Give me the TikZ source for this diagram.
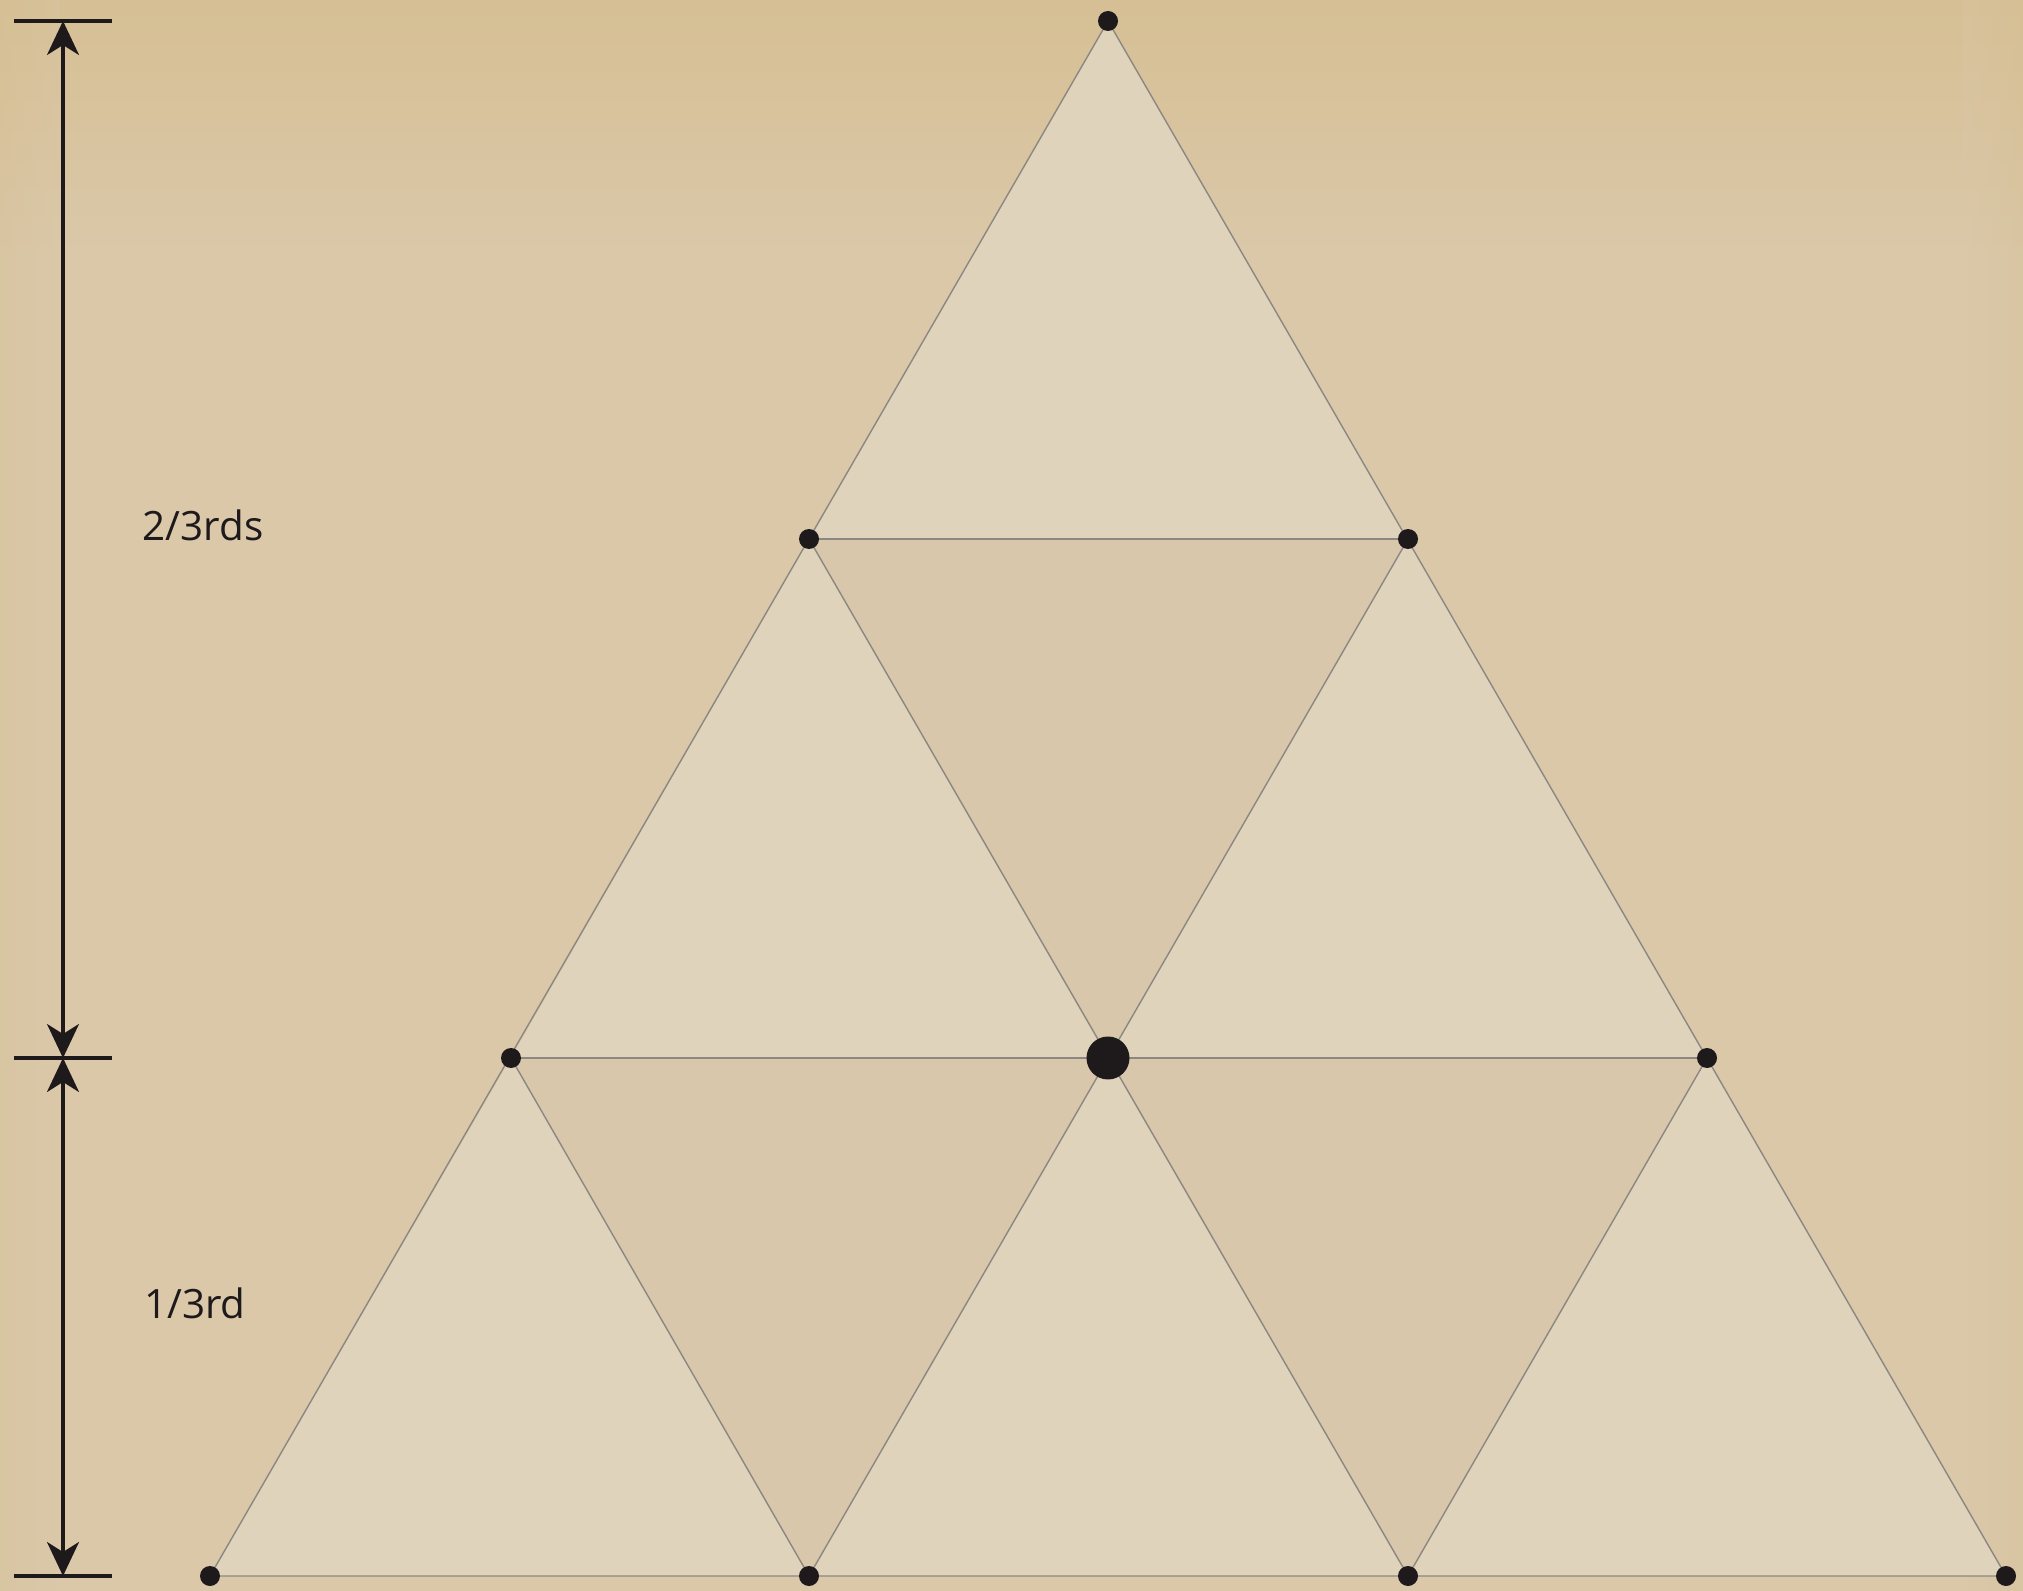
\documentclass[tikz,border=0pt]{standalone}
\usepackage{fontspec}
\setmainfont{Open Sans}
\usetikzlibrary{arrows.meta}
\definecolor{paper}{HTML}{DAC8A9}
\definecolor{papertop}{HTML}{D6BF94}
\definecolor{upfill}{HTML}{E0D3BB}
\definecolor{downfill}{HTML}{D8C7AA}
\definecolor{edge}{HTML}{8C8782}
\definecolor{ink}{HTML}{1E1A1C}
\begin{document}
\begin{tikzpicture}[x=0.02cm,y=-0.02cm,
  vdot/.style={circle,fill=ink,inner sep=0pt,minimum size=0.4cm},
  bigdot/.style={circle,fill=ink,inner sep=0pt,minimum size=0.86cm},
  tri/.style={draw=edge,line width=0.8pt,line join=round},
  dimline/.style={ink,line width=1.9pt},
  dimarrow/.style={dimline,{Stealth[length=0.68cm,width=0.64cm,inset=0.2cm]}-{Stealth[length=0.68cm,width=0.64cm,inset=0.2cm]}},
  lbl/.style={text=ink,font=\fontsize{23}{28}\selectfont,inner sep=0pt}]
\useasboundingbox (0,0) rectangle (2023,1591);
% background
\fill[paper] (0,0) rectangle (2023,1591);
\shade[top color=papertop,bottom color=paper] (0,0) rectangle (2023,260);
\shade[left color=papertop,right color=paper,opacity=0.3] (0,0) rectangle (60,1591);
\shade[left color=paper,right color=papertop,opacity=0.3] (1963,0) rectangle (2023,1591);
% vertices
\coordinate (A) at (1108,21);
\coordinate (B1) at (809,539);
\coordinate (B2) at (1408,539);
\coordinate (C1) at (511,1058);
\coordinate (C2) at (1108,1058);
\coordinate (C3) at (1707,1058);
\coordinate (D1) at (210,1576);
\coordinate (D2) at (809,1576);
\coordinate (D3) at (1408,1576);
\coordinate (D4) at (2006,1576);
% fills
\fill[upfill] (A) -- (B1) -- (B2) -- cycle;
\fill[upfill] (B1) -- (C1) -- (C2) -- cycle;
\fill[upfill] (B2) -- (C2) -- (C3) -- cycle;
\fill[upfill] (C1) -- (D1) -- (D2) -- cycle;
\fill[upfill] (C2) -- (D2) -- (D3) -- cycle;
\fill[upfill] (C3) -- (D3) -- (D4) -- cycle;
\fill[downfill] (B1) -- (B2) -- (C2) -- cycle;
\fill[downfill] (C1) -- (C2) -- (D2) -- cycle;
\fill[downfill] (C2) -- (C3) -- (D3) -- cycle;
% edges
\draw[tri] (A) -- (D1) -- (D4) -- cycle;
\draw[tri] (B1) -- (B2);
\draw[tri] (B1) -- (D3);
\draw[tri] (B2) -- (D2);
\draw[tri] (C1) -- (C3);
\draw[tri] (C1) -- (D2);
\draw[tri] (C3) -- (D3);
% dots
\foreach \p in {A,B1,B2,C1,C3,D1,D2,D3,D4} \node[vdot] (n\p) at (\p) {};
\node[bigdot] (nC2) at (C2) {};
% dimension ticks
\coordinate (t1) at (63,21);
\coordinate (t2) at (63,1058);
\coordinate (t3) at (63,1576);
\draw[dimline] (14,21) -- (112,21);
\draw[dimline] (14,1058) -- (112,1058);
\draw[dimline] (14,1576) -- (112,1576);
\draw[dimarrow] (t1) -- (t2);
\draw[dimarrow] (t2) -- (t3);
% labels
\node[lbl] (l1) at (203,525) {2/3rds};
\node[lbl] (l2) at (195,1303) {1/3rd};
\end{tikzpicture}
\end{document}
